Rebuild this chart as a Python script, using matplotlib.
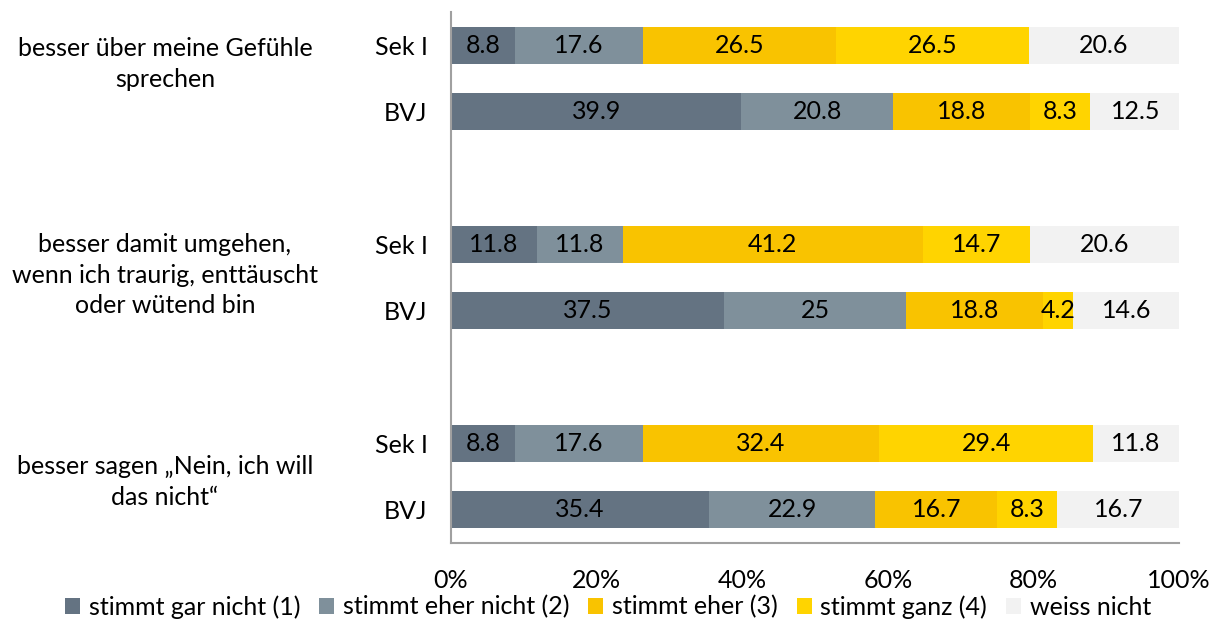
import matplotlib.pyplot as plt
import numpy as np

plt.rcParams['font.family'] = ['Lato', 'DejaVu Sans']

# Daten
fragen = ['besser über meine Gefühle\nsprechen',
          'besser damit umgehen,\nwenn ich traurig, enttäuscht\noder wütend bin',
          'besser sagen „Nein, ich will\ndas nicht“']
gruppen = ['Sek I', 'BVJ', 'Sek I', 'BVJ', 'Sek I', 'BVJ']
kategorien = ['stimmt gar nicht (1)', 'stimmt eher nicht (2)', 'stimmt eher (3)',
              'stimmt ganz (4)', 'weiss nicht']
gar_nicht = [8.8, 39.9, 11.8, 37.5, 8.8, 35.4]
eher_nicht = [17.6, 20.8, 11.8, 25, 17.6, 22.9]
eher = [26.5, 18.8, 41.2, 18.8, 32.4, 16.7]
ganz = [26.5, 8.3, 14.7, 4.2, 29.4, 8.3]
weiss_nicht = [20.6, 12.5, 20.6, 14.6, 11.8, 16.7]

farben = ['#647382', '#7f909b', '#f9c300', '#ffd400', '#f2f2f2']

serien = [gar_nicht, eher_nicht, eher, ganz, weiss_nicht]
ypos = np.array([0, 2, 6, 8, 12, 14])
FS = 18

fig = plt.figure(figsize=(12.11, 6.21), dpi=100)
ax = fig.add_axes([451/1211, 1 - 543/621, (1179 - 451)/1211, (543 - 12)/621])

links = np.zeros(len(ypos))
for werte, farbe, name in zip(serien, farben, kategorien):
    werte = np.array(werte, dtype=float)
    ax.barh(ypos, werte, left=links, height=1.12, color=farbe, label=name,
            edgecolor='none')
    for y, l, w in zip(ypos, links, werte):
        ax.text(l + w / 2, y, f'{w:g}', ha='center', va='center', fontsize=FS,
                color='black', clip_on=False)
    links += werte

ax.set_xlim(0, 100)
ax.set_ylim(15, -1)
ax.set_xticks([0, 20, 40, 60, 80, 100])
ax.set_xticklabels(['0%', '20%', '40%', '60%', '80%', '100%'], fontsize=FS)
ax.tick_params(axis='x', length=0, pad=19)
ax.set_yticks(ypos)
ax.set_yticklabels(gruppen, fontsize=FS)
ax.tick_params(axis='y', length=0, pad=17)

for s in ['top', 'right']:
    ax.spines[s].set_visible(False)
for s in ['left', 'bottom']:
    ax.spines[s].set_color('#a0a0a0')
    ax.spines[s].set_linewidth(1.5)

# Fragetexte links
frage_y = [0.57, 6.93, 13.16]
for f, y in zip(fragen, frage_y):
    yf = ax.transData.transform((0, y))[1]
    fig.text(165/1211, yf / (fig.dpi * 6.21), f, ha='center', va='center',
             fontsize=FS, linespacing=1.38)

fig.legend(loc='center', bbox_to_anchor=(608/1211, 1 - 607/621), ncol=5,
           frameon=False, fontsize=FS, handlelength=0.6, handleheight=0.6,
           handletextpad=0.35, columnspacing=0.75, borderaxespad=0)

plt.savefig('out.png', dpi=100)
